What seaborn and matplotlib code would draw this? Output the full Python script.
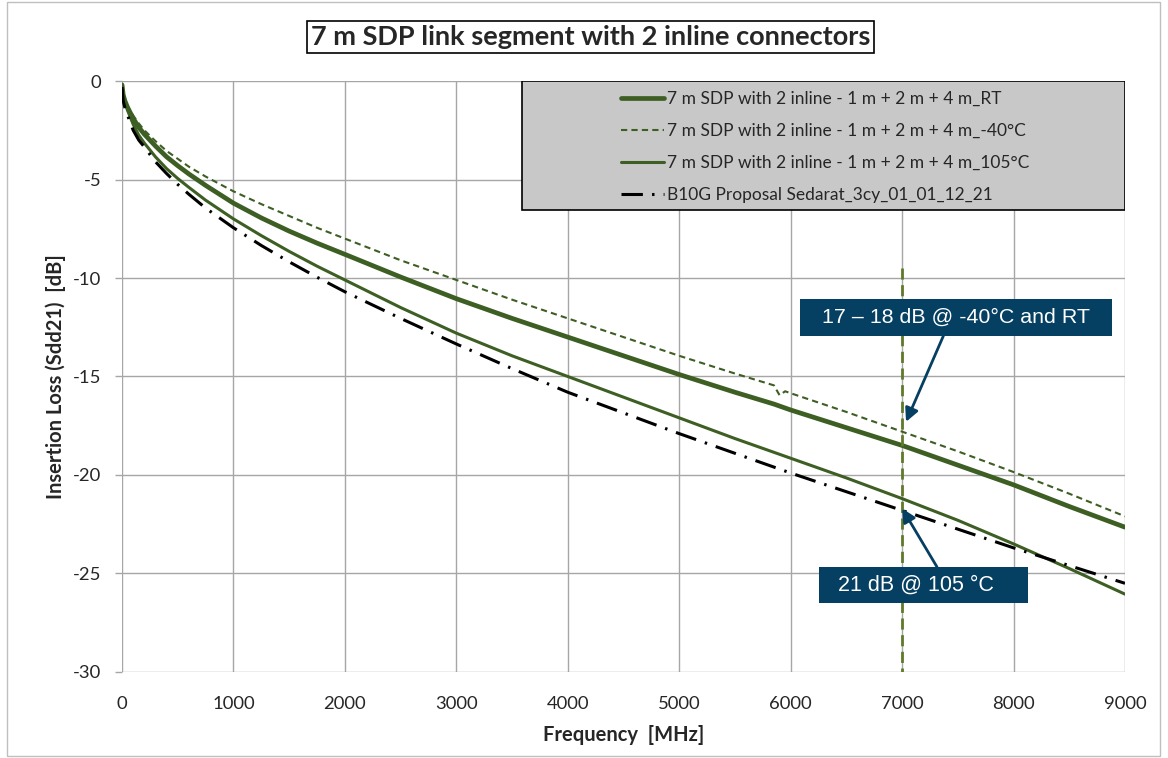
import numpy as np
import pandas as pd
import seaborn as sns
import matplotlib.pyplot as plt
from matplotlib.patches import Rectangle

# frequency points [MHz]
freq = [0, 10, 25, 50, 100, 150, 200, 300, 400, 500, 600, 750, 1000, 1250, 1500,
        1750, 2000, 2500, 3000, 3500, 4000, 4500, 5000, 5500, 5850, 5900, 5950,
        6000, 6500, 7000, 7500, 8000, 8500, 9000]

il_rt = [-0.2, -0.7, -1.0, -1.35, -1.9, -2.35, -2.7, -3.3, -3.85, -4.3, -4.72, -5.3,
         -6.2, -6.95, -7.62, -8.23, -8.8, -9.95, -11.05, -12.05, -13.0, -13.95, -14.9,
         -15.8, -16.4, -16.5, -16.6, -16.7, -17.6, -18.5, -19.5, -20.5, -21.6, -22.65]

il_m40 = [-0.2, -0.6, -0.9, -1.25, -1.75, -2.15, -2.5, -3.05, -3.55, -3.95, -4.35, -4.85,
          -5.6, -6.25, -6.85, -7.45, -8.0, -9.1, -10.1, -11.1, -12.05, -13.0, -13.95,
          -14.85, -15.45, -15.95, -15.75, -15.85, -16.8, -17.8, -18.8, -19.85, -20.95, -22.1]

il_105 = [-0.2, -0.75, -1.1, -1.5, -2.2, -2.75, -3.15, -3.85, -4.45, -4.95, -5.4, -6.05,
          -7.0, -7.85, -8.65, -9.4, -10.1, -11.5, -12.8, -13.95, -15.0, -16.05, -17.1,
          -18.15, -18.85, -18.95, -19.05, -19.15, -20.15, -21.2, -22.3, -23.5, -24.75, -26.05]

il_b10g = [-0.3, -1.0, -1.35, -1.75, -2.5, -3.0, -3.35, -4.1, -4.7, -5.25, -5.75, -6.45,
           -7.45, -8.35, -9.18, -9.96, -10.7, -12.05, -13.35, -14.6, -15.8, -16.85, -17.9,
           -18.9, -19.6, -19.7, -19.8, -19.9, -20.85, -21.8, -22.75, -23.7, -24.6, -25.5]

labels = ["7 m SDP with 2 inline - 1 m + 2 m + 4 m_RT",
          "7 m SDP with 2 inline - 1 m + 2 m + 4 m_-40°C",
          "7 m SDP with 2 inline - 1 m + 2 m + 4 m_105°C",
          "B10G Proposal Sedarat_3cy_01_01_12_21"]

df = pd.DataFrame({"freq": freq, "rt": il_rt, "m40": il_m40, "t105": il_105, "b10g": il_b10g})

sns.set_style("white")
plt.rcParams['font.family'] = ['Lato', 'DejaVu Sans']
plt.rcParams['axes.unicode_minus'] = False

green = "#3e5f24"
navy = "#053f62"
arial = ["Liberation Sans", "DejaVu Sans"]

fig = plt.figure(figsize=(11.68, 7.58), dpi=100)
ax = fig.add_axes([0.1045, 0.1135, 0.8587, 0.7796])

sns.lineplot(data=df, x="freq", y="rt", ax=ax, color=green, linewidth=3.4, label=labels[0])
sns.lineplot(data=df, x="freq", y="m40", ax=ax, color=green, linewidth=1.5,
             linestyle=(0, (3, 2)), label=labels[1])
sns.lineplot(data=df, x="freq", y="t105", ax=ax, color=green, linewidth=2.2, label=labels[2])
sns.lineplot(data=df, x="freq", y="b10g", ax=ax, color="black", linewidth=2.2,
             linestyle=(0, (7, 3, 0.8, 3)), label=labels[3])

# marker line at 7000 MHz
ax.plot([7000, 7000], [-9.5, -30], color="#5f7a2a", linewidth=2, linestyle=(0, (4, 2)), zorder=3)

ax.set_xlim(0, 9000)
ax.set_ylim(-30, 0)
ax.set_xticks(range(0, 9001, 1000))
ax.set_yticks(range(-30, 1, 5))
ax.grid(True, color="#a6a6a6", linewidth=1)
for s in ax.spines.values():
    s.set_visible(False)
ax.tick_params(axis="x", labelsize=13.3, length=0, pad=17)
ax.tick_params(axis="y", labelsize=13.3, length=5, width=1, color="#a6a6a6", pad=10, left=True)
ax.set_xlabel("Frequency  [MHz]", fontsize=14.5, fontweight="bold", labelpad=10)
ax.set_ylabel("Insertion Loss (Sdd21)  [dB]", fontsize=14.5, fontweight="bold", labelpad=5)

# legend box
ax.add_patch(Rectangle((0.399, 0.782), 0.601, 0.218, transform=ax.transAxes,
                       facecolor="#c8c8c8", edgecolor="black", linewidth=1.2, zorder=4))
leg = ax.legend(loc="center", bbox_to_anchor=(0.701, 0.889), frameon=False, fontsize=12.5,
                handlelength=2.5, handletextpad=0.17, labelspacing=0.92)
leg.set_zorder(5)

# annotation boxes with arrows
ax.add_patch(Rectangle((6084, -12.94), 2800, 1.87, facecolor=navy, edgecolor="none", zorder=7))
ax.text(7484, -12.0, "17 – 18 dB @ -40°C and RT", ha="center", va="center", color="white",
        fontsize=15.4, family=arial, zorder=8)
ax.annotate("", xy=(7035, -17.3), xytext=(7370, -12.94),
            arrowprops=dict(arrowstyle="-|>", color=navy, lw=2, mutation_scale=20,
                            shrinkA=0, shrinkB=0), zorder=6)

ax.add_patch(Rectangle((6254, -26.5), 1876, 1.83, facecolor=navy, edgecolor="none", zorder=7))
ax.text(7125, -25.6, "21 dB @ 105 °C", ha="center", va="center", color="white",
        fontsize=15.5, family=arial, zorder=8)
ax.annotate("", xy=(7000, -21.7), xytext=(7313, -24.67),
            arrowprops=dict(arrowstyle="-|>", color=navy, lw=2, mutation_scale=20,
                            shrinkA=0, shrinkB=0), zorder=6)

# title in a box
fig.text(0.5055, 0.951, "7 m SDP link segment with 2 inline connectors", ha="center", va="center",
         fontsize=19.5, fontweight="bold",
         bbox=dict(boxstyle="square,pad=0.15", facecolor="white", edgecolor="black", linewidth=1.2))

# outer chart border
fig.add_artist(Rectangle((0.006, 0.002), 0.987, 0.996, transform=fig.transFigure,
                         fill=False, edgecolor="#bfbfbf", linewidth=1))

fig.savefig("out.png", dpi=100)
